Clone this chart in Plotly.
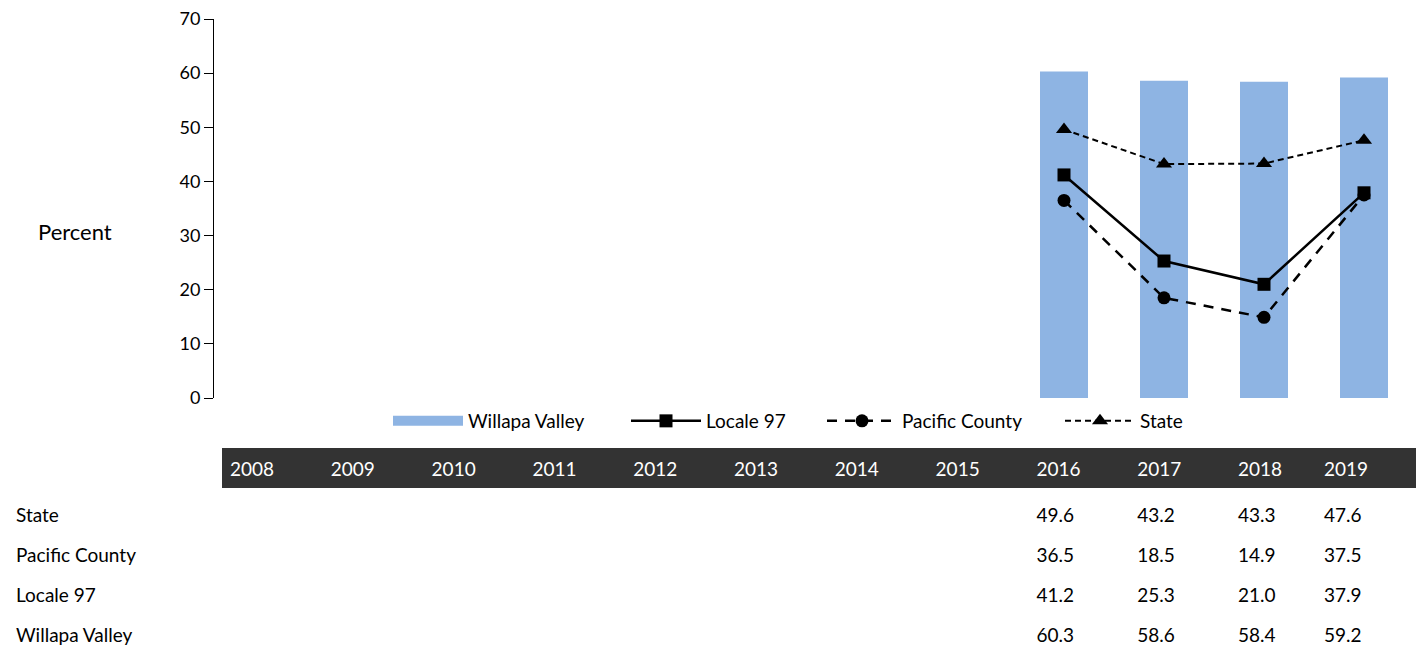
import plotly.graph_objects as go

# data
years = ['2008', '2009', '2010', '2011', '2012', '2013', '2014', '2015', '2016', '2017', '2018', '2019']
willapa_valley = [None, None, None, None, None, None, None, None, 60.3, 58.6, 58.4, 59.2]
locale_97 = [None, None, None, None, None, None, None, None, 41.2, 25.3, 21.0, 37.9]
pacific_county = [None, None, None, None, None, None, None, None, 36.5, 18.5, 14.9, 37.5]
state = [None, None, None, None, None, None, None, None, 49.6, 43.2, 43.3, 47.6]

table_rows = ['State', 'Pacific County', 'Locale 97', 'Willapa Valley']

W, H = 1424, 650
OFF = 8  # page body margin
FONT = 'Lato'
BAR_COLOR = '#8EB4E3'
DARK = '#333333'


# screen pixel -> paper fraction
def px(x):
    return (x - OFF) / W


def py(y):
    return 1 - (y - OFF) / H


def fmt(v):
    return '' if v is None else f'{v:.1f}'


fig = go.Figure()

fig.add_trace(go.Bar(x=years, y=willapa_valley, name='Willapa Valley', showlegend=False,
                     marker=dict(color=BAR_COLOR, line=dict(width=0))))
# wide block swatch for the bar series in the legend
fig.add_trace(go.Scatter(x=[None], y=[None], name='Willapa Valley', mode='lines',
                         legendwidth=153, line=dict(color=BAR_COLOR, width=16)))
fig.add_trace(go.Scatter(x=years, y=locale_97, name='Locale 97', mode='lines+markers',
                         legendwidth=111,
                         line=dict(color='black', width=2.5),
                         marker=dict(symbol='square', size=13, color='black')))
fig.add_trace(go.Scatter(x=years, y=pacific_county, name='Pacific County', mode='lines+markers',
                         legendwidth=153,
                         line=dict(color='black', width=2.5, dash='10px,8px'),
                         marker=dict(symbol='circle', size=13, color='black')))
fig.add_trace(go.Scatter(x=years, y=state, name='State', mode='lines+markers',
                         line=dict(color='black', width=2, dash='6px,4px'),
                         marker=dict(symbol='triangle-up', size=14, color='black')))

# data table below the chart: dark year band, then the value rows
col_w = [px(222) * W] + [100.8] * 10 + [86, 102]
band_fill = ['white'] + [DARK] * len(years)

fig.add_trace(go.Table(
    domain=dict(x=[0, px(1418)], y=[py(489), py(448)]),
    columnwidth=col_w,
    header=dict(values=[''] * (len(years) + 1), fill_color=band_fill, line_color=band_fill,
                height=6, font=dict(size=1)),
    cells=dict(values=[['']] + [[y] for y in years],
               fill_color=band_fill, line_color=band_fill,
               font=dict(family=FONT, size=19, color='white'),
               align='left', height=35),
))

columns = [table_rows]
for i in range(len(years)):
    columns.append([fmt(state[i]), fmt(pacific_county[i]), fmt(locale_97[i]), fmt(willapa_valley[i])])

fig.add_trace(go.Table(
    domain=dict(x=[0, px(1418)], y=[0, py(489)]),
    columnwidth=col_w,
    header=dict(values=[''] * (len(years) + 1), fill_color='white', line_color='white',
                height=11, font=dict(size=1)),
    cells=dict(values=columns, fill_color='white', line_color='white',
               font=dict(family=FONT, size=19, color='black'),
               align='left', height=40),
))

fig.update_layout(
    width=W, height=H, autosize=False,
    margin=dict(l=0, r=0, t=0, b=0, pad=0, autoexpand=False),
    plot_bgcolor='white', paper_bgcolor='white',
    font=dict(family=FONT, size=19, color='black'),
    bargap=0.52,
    xaxis=dict(domain=[px(214), px(1414)], type='category', range=[-0.5, 11.5],
               showticklabels=False, automargin=False,
               showline=False, showgrid=False, zeroline=False, ticks=''),
    yaxis=dict(domain=[py(398), py(19)], range=[0, 70], dtick=10,
               automargin=False, ticklabeloverflow='allow',
               showline=True, linecolor='black', linewidth=1, ticks='outside',
               ticklen=9, tickcolor='black', showgrid=False, zeroline=False,
               tickfont=dict(size=18)),
    legend=dict(orientation='h', x=px(388), xanchor='left', y=py(421),
                yanchor='middle', font=dict(size=19), itemwidth=70,
                bgcolor='rgba(0,0,0,0)'),
    annotations=[dict(text='Percent', x=px(75), y=py(232), xref='paper', yref='paper',
                      xanchor='center', yanchor='middle',
                      showarrow=False, font=dict(size=22))],
)

fig.write_html('out.html')
